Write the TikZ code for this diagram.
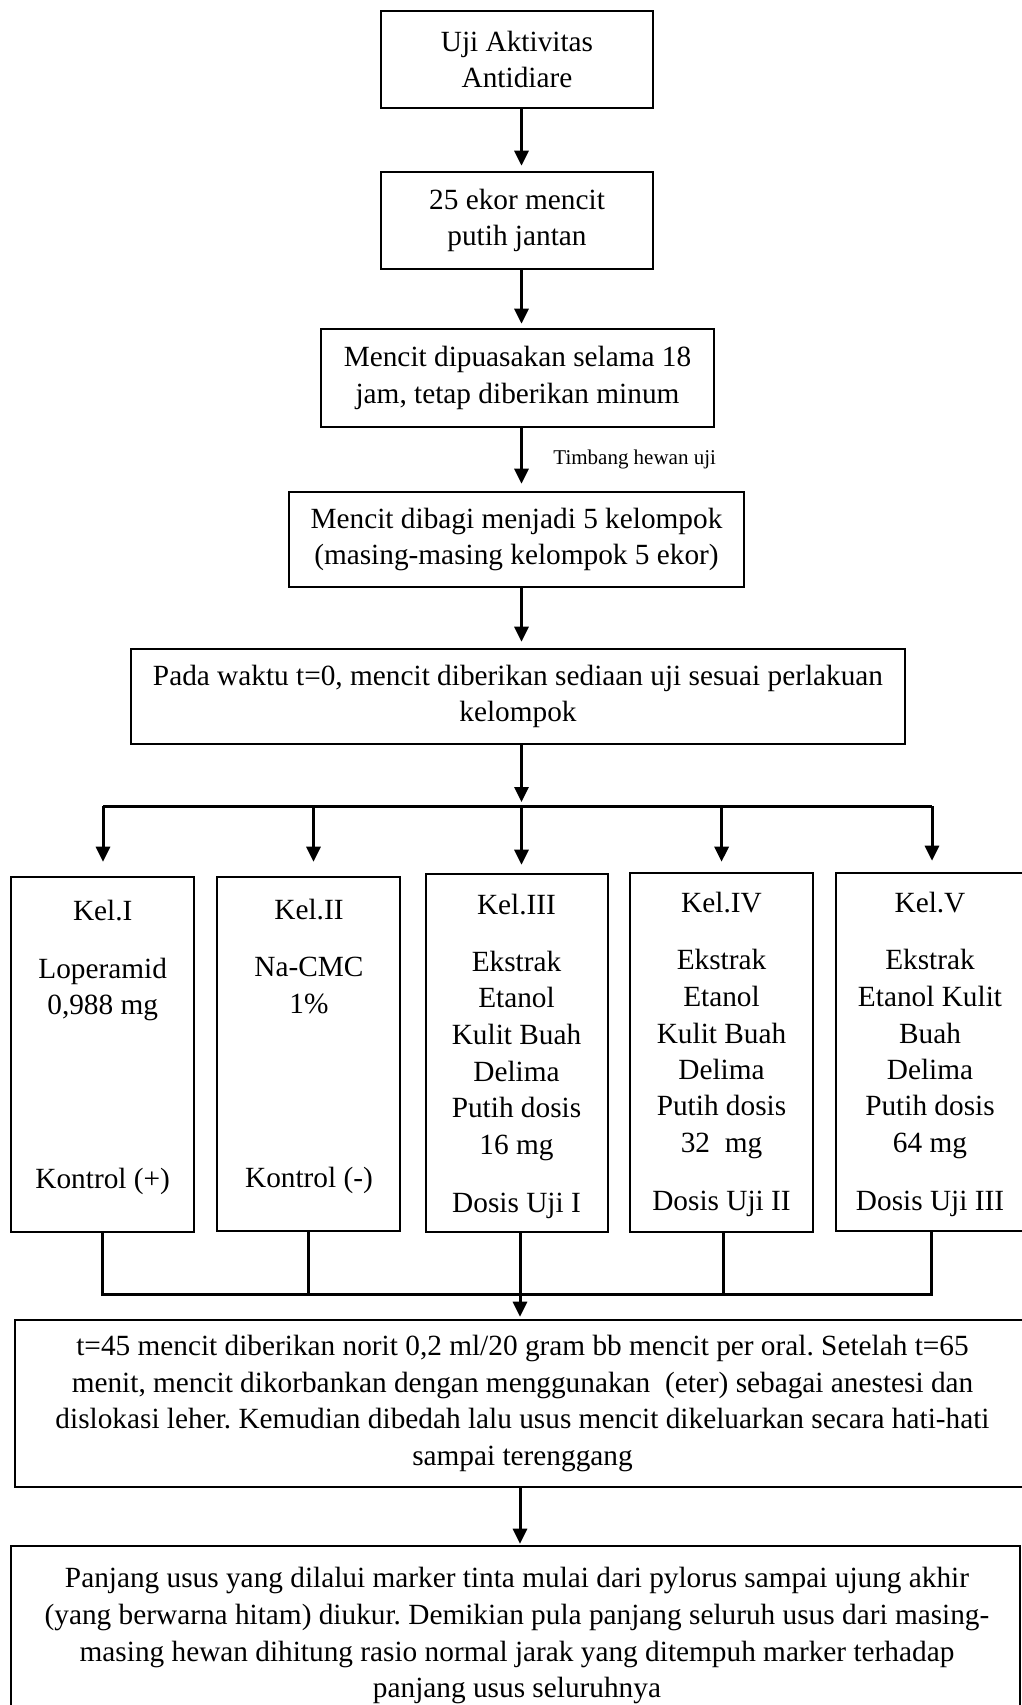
\documentclass[tikz,border=0pt]{standalone}
\usepackage{fontspec}
\setmainfont{Liberation Serif}
\usetikzlibrary{arrows.meta}
\frenchspacing
\begin{document}
\begin{tikzpicture}[x=0.5pt,y=-0.5pt,
  box/.style={draw, line width=1.3pt, inner sep=0pt, align=center, font=\fontsize{14.65}{18.35}\selectfont},
  txt/.style={inner sep=0pt, font=\fontsize{14.65}{18.35}\selectfont},
  small/.style={inner sep=0pt, font=\fontsize{10.5}{12}\selectfont},
  ln/.style={line width=1.5pt},
  arr/.style={line width=1.5pt, -{Triangle[length=7.5pt,width=7pt]}}]
\clip (0,0) rectangle (1022,1705);
\fill[white] (0,0) rectangle (1022,1705);

% main boxes
\node[box, minimum width=136pt, minimum height=48.5pt] (b1) at (517,59.5) {Uji Aktivitas\\Antidiare};
\node[box, minimum width=136pt, minimum height=48.5pt] (b2) at (517,220.5) {25 ekor mencit\\putih jantan};
\node[box, minimum width=196.5pt, minimum height=49pt] (b3) at (517.5,378) {Mencit dipuasakan selama 18\\jam, tetap diberikan minum};
\node[box, minimum width=227.5pt, minimum height=47.5pt] (b4) at (516.5,539.5) {Mencit dibagi menjadi 5 kelompok\\(masing-masing kelompok 5 ekor)};
\node[box, minimum width=387pt, minimum height=47.5pt] (b5) at (518,696.5) {Pada waktu t=0, mencit diberikan sediaan uji sesuai perlakuan\\kelompok};

% group boxes
\node[box, minimum width=91.5pt, minimum height=177.5pt] (k1) at (102.5,1054.5) {};
\node[box, minimum width=91.5pt, minimum height=177pt] (k2) at (308.5,1054) {};
\node[box, minimum width=91pt, minimum height=179pt] (k3) at (517,1053) {};
\node[box, minimum width=91.5pt, minimum height=179.5pt] (k4) at (721.5,1052.5) {};
\node[box, minimum width=97pt, minimum height=179pt] (k5) at (933,1052) {};

% group texts
\node[txt, anchor=base] (k1a) at (102.7,920) {Kel.I};
\node[txt, anchor=base] (k1b) at (102.7,978) {Loperamid};
\node[txt, anchor=base] (k1c) at (102.7,1014) {0,988 mg};
\node[txt, anchor=base] (k1d) at (102.7,1188) {Kontrol (+)};

\node[txt, anchor=base] (k2a) at (309,919) {Kel.II};
\node[txt, anchor=base] (k2b) at (309,976) {Na-CMC};
\node[txt, anchor=base] (k2c) at (309,1013) {1\%};
\node[txt, anchor=base] (k2d) at (309,1187) {Kontrol (-)};

\node[txt, anchor=base] (k3a) at (516.5,914) {Kel.III};
\foreach \t/\yy [count=\i] in {Ekstrak/971, Etanol/1007, Kulit Buah/1044, Delima/1081, Putih dosis/1117, 16 mg/1154}
  \node[txt, anchor=base] (k3b\i) at (516.5,\yy) {\t};
\node[txt, anchor=base] (k3c) at (516.5,1212) {Dosis Uji I};

\node[txt, anchor=base] (k4a) at (721.5,912) {Kel.IV};
\foreach \t/\yy [count=\i] in {Ekstrak/969, Etanol/1006, Kulit Buah/1043, Delima/1079, Putih dosis/1115, 32~ mg/1152}
  \node[txt, anchor=base] (k4b\i) at (721.5,\yy) {\t};
\node[txt, anchor=base] (k4c) at (721.5,1210) {Dosis Uji II};

\node[txt, anchor=base] (k5a) at (930,912) {Kel.V};
\foreach \t/\yy [count=\i] in {Ekstrak/969, Etanol Kulit/1006, Buah/1043, Delima/1079, Putih dosis/1115, 64 mg/1152}
  \node[txt, anchor=base] (k5b\i) at (930,\yy) {\t};
\node[txt, anchor=base] (k5c) at (930,1210) {Dosis Uji III};

% lower boxes
\node[box, minimum width=507.5pt, minimum height=83.5pt] (b6) at (522.5,1403.5) {t=45 mencit diberikan norit 0,2 ml/20 gram bb mencit per oral. Setelah t=65\\menit, mencit dikorbankan dengan menggunakan~ (eter) sebagai anestesi dan\\dislokasi leher. Kemudian dibedah lalu usus mencit dikeluarkan secara hati-hati\\sampai terenggang};
\node[box, minimum width=504.5pt, minimum height=117pt] (b7) at (515.5,1663) {};
\node[txt, align=center, anchor=north] (b7t) at (517,1567) {Panjang usus yang dilalui marker tinta mulai dari pylorus sampai ujung akhir\\(yang berwarna hitam) diukur. Demikian pula panjang seluruh usus dari masing-\\masing hewan dihitung rasio normal jarak yang ditempuh marker terhadap\\panjang usus seluruhnya};

% spine connectors
\coordinate (sp) at (521.5,0);
\draw[arr, shorten >=2.5pt] (b1.south -| sp) -- (b2.north -| sp);
\draw[arr, shorten >=2pt] (b2.south -| sp) -- (b3.north -| sp);
\draw[arr, shorten >=3.5pt] (b3.south -| sp) -- (b4.north -| sp);
\node[small, anchor=base west] (lbl) at (553,464) {Timbang hewan uji};
\draw[arr, shorten >=3pt] (b4.south -| sp) -- (b5.north -| sp);

% branching
\coordinate (j1) at (103,806);
\coordinate (j2) at (313.5,806);
\coordinate (j3) at (521.5,806);
\coordinate (j4) at (721.6,806);
\coordinate (j5) at (932,806);
\draw[arr, shorten >=2pt] (b5.south -| j3) -- (j3);
\draw[ln] (j1) -- (j5);
\draw[arr, shorten >=7pt] (j1) -- (k1.north -| j1);
\draw[arr, shorten >=7pt] (j2) -- (k2.north -| j2);
\draw[arr, shorten >=4pt] (j3) -- (k3.north -| j3);
\draw[arr, shorten >=5pt] (j4) -- (k4.north -| j4);
\draw[arr, shorten >=5.5pt] (j5) -- (k5.north -| j5);

% merging
\coordinate (m1) at (102,1294);
\coordinate (m2) at (308,1294);
\coordinate (m3) at (520,1294);
\coordinate (m4) at (723.6,1294);
\coordinate (m5) at (931,1294);
\draw[ln] (k1.south -| m1) -- (m1) -- (m5) -- (k5.south -| m5);
\draw[ln] (k2.south -| m2) -- (m2);
\draw[ln] (k4.south -| m4) -- (m4);
\draw[arr, shorten >=1pt] (k3.south -| m3) -- (b6.north -| m3);
\draw[arr, shorten >=0.5pt] (b6.south -| m3) -- (b7.north -| m3);
\end{tikzpicture}
\end{document}
